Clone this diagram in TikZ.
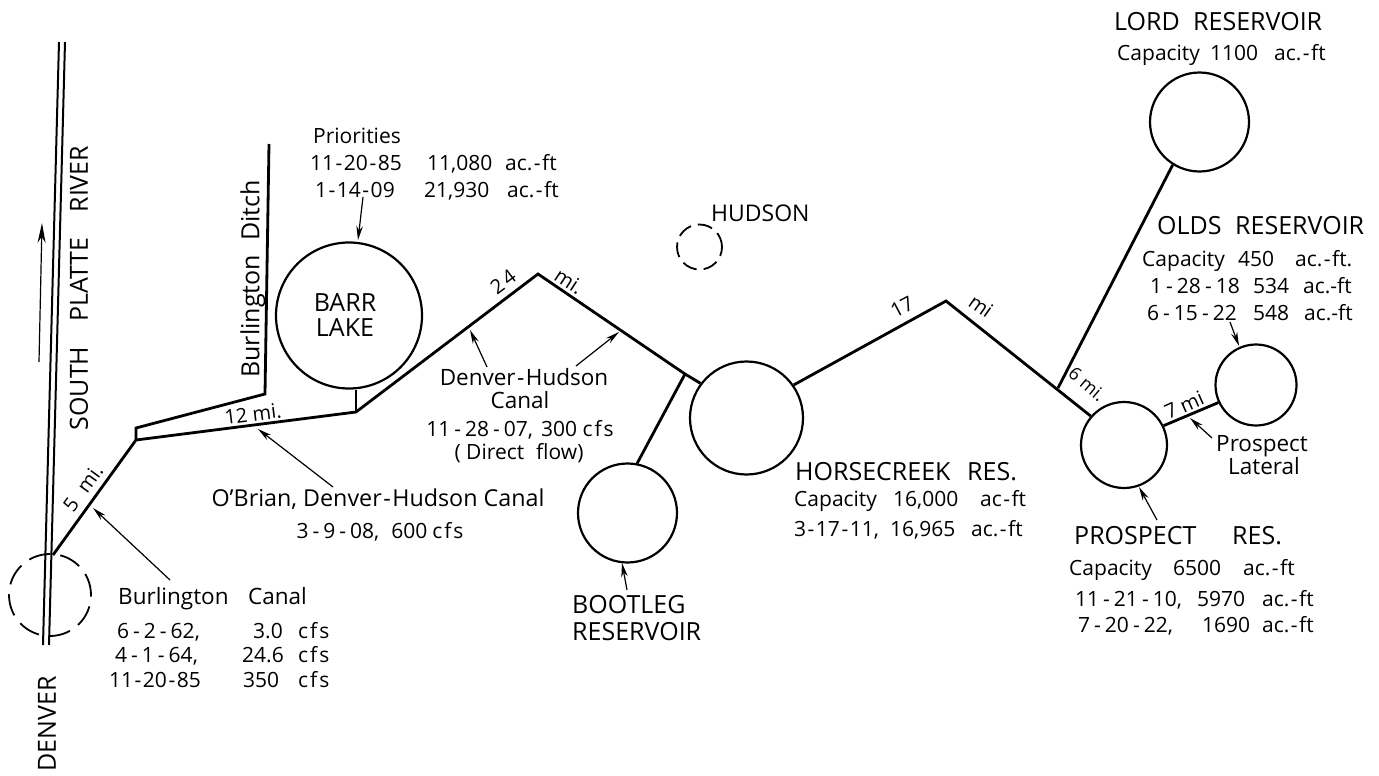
\documentclass[tikz,border=0pt]{standalone}
\usepackage{amsmath}
\usepackage{fontspec}
\setmainfont{Open Sans}
\usetikzlibrary{arrows.meta}
\newcommand{\hy}{\kern1.5pt-\kern1.5pt}
\newcommand{\hyw}{\kern4pt-\kern4pt}
\newcommand{\cfs}{c\kern2pt f\kern2pt s}
\tikzset{
  res/.style={draw,circle,line width=2.2pt,inner sep=0pt},
  town/.style={draw,circle,line width=1.8pt,inner sep=0pt,dash pattern=on 22pt off 10pt},
  canal/.style={line width=2.8pt,line join=miter},
  pointer/.style={line width=1.2pt,-{Stealth[length=14pt,width=6.5pt]}},
  big/.style={font=\fontsize{25}{27}\selectfont,anchor=base west,inner sep=0pt},
  mid/.style={font=\fontsize{22.5}{25}\selectfont,anchor=base west,inner sep=0pt},
  small/.style={font=\fontsize{21}{25}\selectfont,anchor=base west,inner sep=0pt},
  tag/.style={font=\fontsize{20}{25}\selectfont,anchor=center,inner sep=0pt},
}
\begin{document}
\begin{tikzpicture}[x=1pt,y=-1pt]
  \useasboundingbox (0,0) rectangle (1379,776);
  \node[res,minimum size=146pt] (barr) at (349,315.5) {};
  \node[res,minimum size=113pt] (horse) at (746.5,418) {};
  \node[res,minimum size=99pt] (boot) at (627.5,513) {};
  \node[res,minimum size=99pt] (lord) at (1199.5,122) {};
  \node[res,minimum size=86pt] (prospect) at (1124,445) {};
  \node[res,minimum size=81pt] (olds) at (1256,385) {};
  \node[town,minimum size=82pt] (denver) at (50,595) {};
  \node[town,minimum size=45pt,dash pattern=on 15pt off 7pt] (hudson) at (699.5,247) {};

  \coordinate (riverAtop) at (59,42);
  \coordinate (riverAbot) at (43,645);
  \coordinate (riverBtop) at (65,42);
  \coordinate (riverBbot) at (49,645);
  \draw[line width=2pt] (riverAtop) -- (riverAbot);
  \draw[line width=2pt] (riverBtop) -- (riverBbot);

  \coordinate (start) at (53,555);
  \coordinate (fork) at (136,440);
  \coordinate (forkup) at (136,428);
  \coordinate (ditchbend) at (265,394);
  \coordinate (ditchend) at (269,144);
  \coordinate (barrfoot) at (356,412);
  \coordinate (peakA) at (538,274);
  \coordinate (junction) at (685,374);
  \coordinate (peakB) at (946,301);
  \coordinate (lordfoot) at (1058,388);
  \draw[canal] (start) -- (fork) -- (barrfoot) -- (peakA) -- (junction) -- (horse.143);
  \draw[canal] (fork) -- (forkup) -- (ditchbend) -- (ditchend);
  \draw[line width=1.8pt] (barrfoot) -- (barrfoot |- barr.south);
  \draw[canal] (junction) -- (boot.79);
  \draw[canal] (horse.35) -- (peakB) -- (prospect.139);
  \draw[canal] (lordfoot) -- (lord.238);
  \draw[canal] (prospect.26) -- (olds.205);

  \coordinate (flowtail) at (39,362);
  \coordinate (flowhead) at (42,223);
  \draw[line width=1.2pt,-{Stealth[length=20pt,width=8pt]}] (flowtail) -- (flowhead);

  \node[big,anchor=center,rotate=90] (platte) at (79,288) {SOUTH\hspace{25pt}PLATTE\hspace{25pt}RIVER};
  \node[big,anchor=center,rotate=90] (ditch) at (253,279) {Burlington\hspace{14pt}Ditch};
  \node[big,anchor=center,rotate=90] (denvername) at (47,724) {DENVER};
  \node[big,anchor=base] (barrname) at (345,311) {BARR};
  \node[big,anchor=base] (lakename) at (345,336) {LAKE};
  \node[big,font=\fontsize{23}{25}\selectfont] (hudsonname) at (711,221) {HUDSON};

  \node[mid] (burl) at (118,604) {Burlington};
  \node[mid] (burlcanal) at (248,604) {Canal};
  \node[small] (burlA) at (117,638) {6\hyw 2\hyw 62,};
  \node[small] (burlAq) at (253,638) {3.0};
  \node[small] (burlAu) at (298,638) {\cfs};
  \node[small] (burlB) at (115,662) {4\hyw 1\hyw 64,};
  \node[small] (burlBq) at (242,662) {24.6};
  \node[small] (burlBu) at (298,662) {\cfs};
  \node[small] (burlC) at (109,687) {11\hy 20\hy 85};
  \node[small] (burlCq) at (243,687) {350};
  \node[small] (burlCu) at (298,687) {\cfs};

  \node[mid,anchor=base,font=\fontsize{23.3}{25}\selectfont] (obrian) at (378,506) {O'Brian, Denver\hy Hudson Canal};
  \node[small,anchor=base] (obriandate) at (380,538) {3\hyw 9\hyw 08,\hspace{12pt}600\hspace{5pt}\cfs};

  \node[small] (prio) at (313,143) {Priorities};
  \node[small] (prioA) at (310,170) {11\hy 20\hy 85};
  \node[small] (prioAq) at (427,170) {11,080};
  \node[small] (prioAu) at (505,170) {ac.\hy ft};
  \node[small] (prioB) at (315,197) {1\hy 14\hy 09};
  \node[small] (prioBq) at (424,197) {21,930};
  \node[small] (prioBu) at (507,197) {ac.\hy ft};

  \node[mid,anchor=base] (dh) at (524,385) {Denver\hy Hudson};
  \node[mid,anchor=base] (dhcanal) at (520,408) {Canal};
  \node[small,anchor=base] (dhdate) at (520,436) {11\hyw 28\hyw 07,\hspace{8pt}300 \cfs};
  \node[small,anchor=base] (dhnote) at (519,459) {( Direct\hspace{12pt}flow)};

  \node[big] (bootname) at (572,613) {BOOTLEG};
  \node[big] (bootres) at (572,640) {RESERVOIR};

  \node[big] (horsename) at (795,480) {HORSECREEK};
  \node[big] (horseres) at (967,480) {RES.};
  \node[small] (horsecap) at (794,506) {Capacity};
  \node[small] (horsecapq) at (893,506) {16,000};
  \node[small] (horsecapu) at (980,506) {ac\hy ft};
  \node[small] (horsedate) at (794,536) {3\hy 17\hy 11,};
  \node[small] (horsedateq) at (890,536) {16,965};
  \node[small] (horsedateu) at (971,536) {ac.\hy ft};

  \node[big] (prospname) at (1074,544) {PROSPECT};
  \node[big] (prospres) at (1232,544) {RES.};
  \node[small] (prospcap) at (1069,575) {Capacity};
  \node[small] (prospcapq) at (1173,575) {6500};
  \node[small] (prospcapu) at (1243,575) {ac.\hy ft};
  \node[small] (prospA) at (1075,606) {11\hyw 21\hyw 10,};
  \node[small] (prospAq) at (1197,606) {5970};
  \node[small] (prospAu) at (1262,606) {ac.\hy ft};
  \node[small] (prospB) at (1078,632) {7\hyw 20\hyw 22,};
  \node[small] (prospBq) at (1202,632) {1690};
  \node[small] (prospBu) at (1262,632) {ac.\hy ft};

  \node[big] (lordname) at (1114,31) {LORD};
  \node[big] (lordres) at (1193,31) {RESERVOIR};
  \node[small] (lordcap) at (1117,61) {Capacity};
  \node[small] (lordcapq) at (1210,61) {1100};
  \node[small] (lordcapu) at (1274,61) {ac.\hy ft};

  \node[big] (oldsname) at (1157,234) {OLDS};
  \node[big] (oldsres) at (1235,234) {RESERVOIR};
  \node[small] (oldscap) at (1142,266) {Capacity};
  \node[small] (oldscapq) at (1238,266) {450};
  \node[small] (oldscapu) at (1295,266) {ac.\hy ft.};
  \node[small] (oldsA) at (1150,293) {1\hyw 28\hyw 18};
  \node[small] (oldsAq) at (1253,293) {534};
  \node[small] (oldsAu) at (1303,293) {ac.-ft};
  \node[small] (oldsB) at (1147,320) {6\hyw 15\hyw 22};
  \node[small] (oldsBq) at (1253,320) {548};
  \node[small] (oldsBu) at (1304,320) {ac.-ft};

  \node[mid] (lateralA) at (1216,451) {Prospect};
  \node[mid] (lateralB) at (1228,474) {Lateral};

  \node[tag,rotate=54] (five) at (83,488) {5\hspace{12pt}mi.};
  \node[tag,rotate=7] (twelve) at (253,414) {12 mi.};
  \node[tag,rotate=37] (t24) at (503,282) {2\kern3pt 4};
  \node[tag,rotate=-33] (tmiA) at (569,281) {mi.};
  \node[tag,rotate=28] (t17) at (902,307) {17};
  \node[tag,rotate=-35] (tmiB) at (981,306) {mi};
  \node[tag,rotate=-40,font=\fontsize{18}{20}\selectfont] (tsix) at (1087,384) {6 mi.};
  \node[tag,rotate=24] (tseven) at (1184,405) {7 mi};

  \coordinate (a1) at (170,580);
  \coordinate (a1h) at (93,508);
  \coordinate (a2) at (333,487);
  \coordinate (a2h) at (258,429);
  \coordinate (a3) at (363,197);
  \coordinate (a3h) at (358,240);
  \coordinate (a4) at (487,367);
  \coordinate (a4h) at (470,330);
  \coordinate (a5) at (576,366);
  \coordinate (a5h) at (619,332);
  \coordinate (a6) at (627,590);
  \coordinate (a6h) at (622,563);
  \coordinate (a7) at (1157,520);
  \coordinate (a7h) at (1139,487);
  \coordinate (a8) at (1230,322);
  \coordinate (a8h) at (1239,346);
  \coordinate (a9) at (1212,438);
  \coordinate (a9h) at (1190,418);
  \foreach \t/\h in {a1/a1h,a2/a2h,a3/a3h,a4/a4h,a5/a5h,a6/a6h,a7/a7h,a8/a8h,a9/a9h}
    \draw[pointer] (\t) -- (\h);
\end{tikzpicture}
\end{document}
